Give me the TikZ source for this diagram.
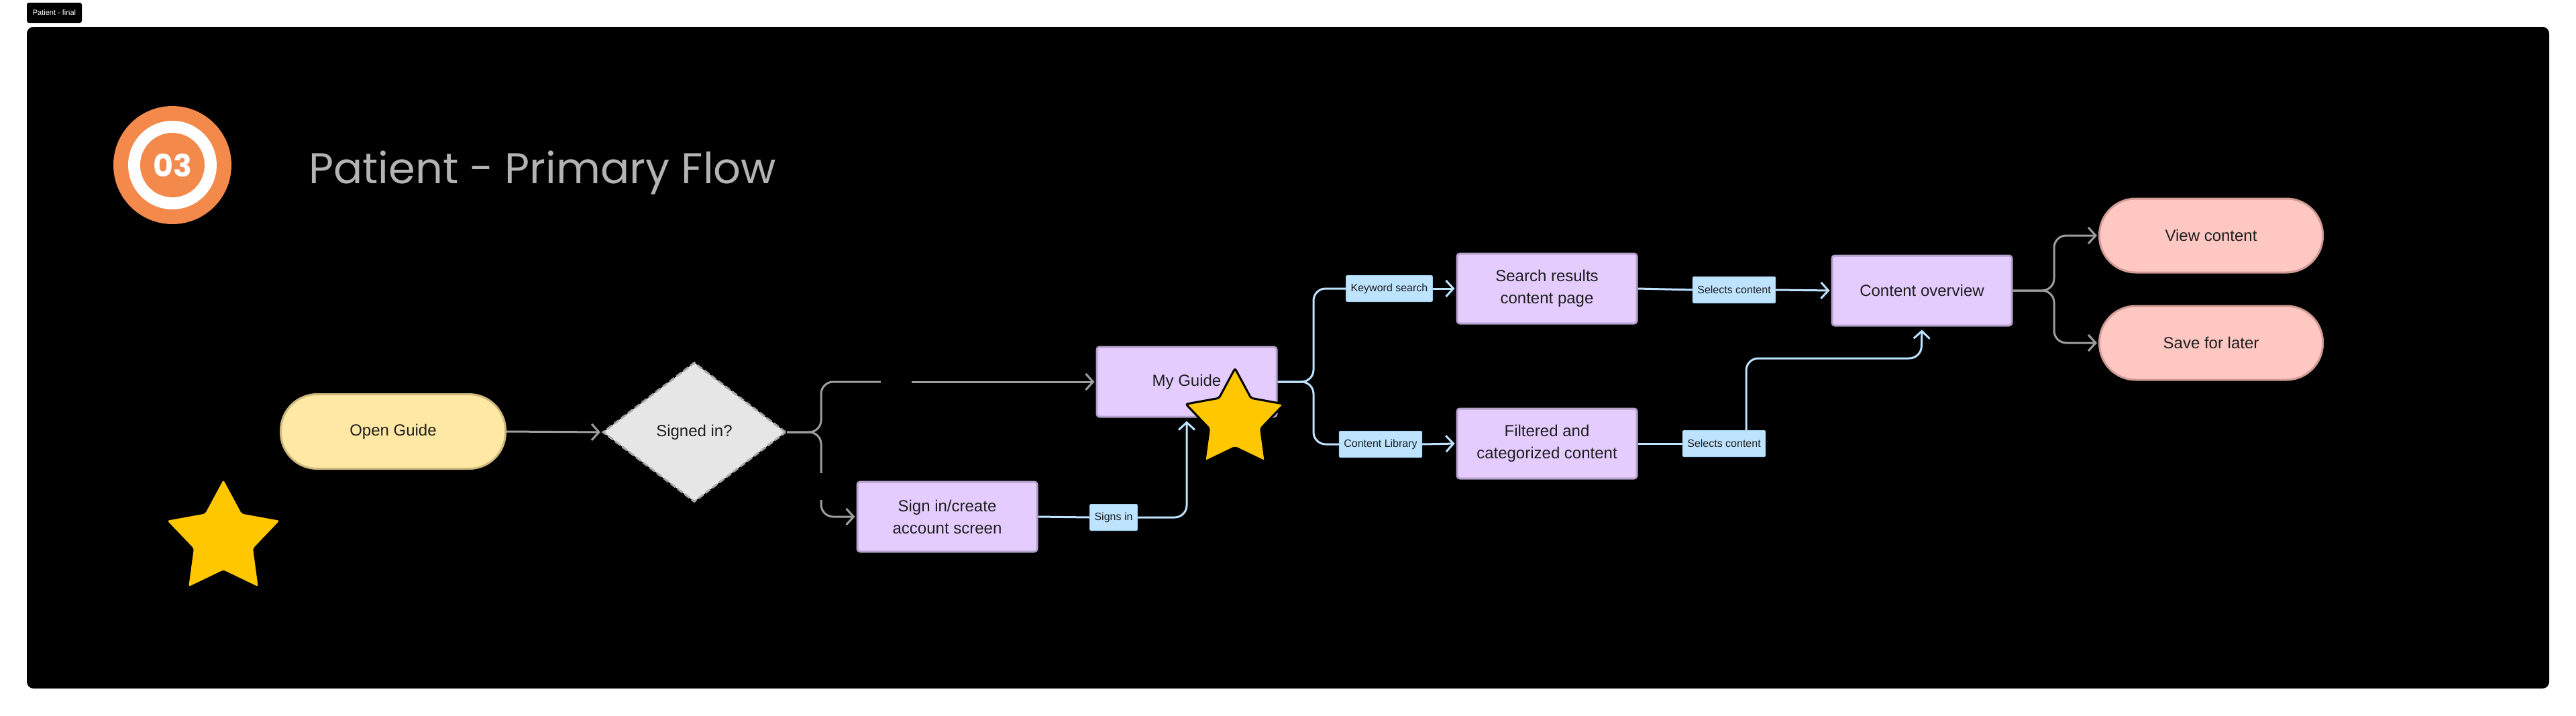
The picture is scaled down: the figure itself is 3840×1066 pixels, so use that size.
\documentclass[tikz,border=0pt]{standalone}
\usepackage{fontspec}
\setmainfont{Liberation Sans}
\newfontfamily\popfont{Poppins}
\usetikzlibrary{shapes.geometric,arrows.meta,calc}
\definecolor{lav}{HTML}{E4CCFF}
\definecolor{lavdraw}{HTML}{B5A2CB}
\definecolor{yel}{HTML}{FFE8A3}
\definecolor{yeldraw}{HTML}{CDB87C}
\definecolor{pnk}{HTML}{FFC7C2}
\definecolor{pnkdraw}{HTML}{D09A95}
\definecolor{dgray}{HTML}{E6E6E6}
\definecolor{dgraydraw}{HTML}{A8A8A8}
\definecolor{lblue}{HTML}{BDE3FF}
\definecolor{lbluedraw}{HTML}{A3CFEF}
\definecolor{gline}{HTML}{9E9E9E}
\definecolor{txt}{HTML}{1E1E1E}
\definecolor{gold}{HTML}{FFC700}
\definecolor{orng}{HTML}{F38A4C}
\definecolor{ttlgray}{HTML}{B3B3B3}
\begin{document}
\begin{tikzpicture}[x=1pt,y=-1pt,
  boxtxt/.style={font=\fontsize{24}{33}\selectfont, text=txt, align=center},
  procbox/.style={boxtxt, rectangle, rounded corners=4pt, fill=lav, draw=lavdraw, line width=3pt, minimum width=268pt, minimum height=104pt, inner sep=0pt},
  stadium/.style={boxtxt, rectangle, rounded corners=54pt, line width=3pt, minimum width=333pt, minimum height=110pt, inner sep=0pt},
  decision/.style={boxtxt, diamond, fill=dgray, draw=dgraydraw, line width=3pt, dash pattern=on 9pt off 4pt, minimum width=273pt, minimum height=208pt, inner sep=0pt},
  lbl/.style={font=\fontsize{16}{18}\selectfont, text=txt, rectangle, rounded corners=2pt, fill=lblue, draw=lbluedraw, line width=1pt, minimum height=39pt, inner xsep=7pt, inner ysep=0pt},
  gap/.style={inner sep=0pt, minimum width=1pt, minimum height=1pt},
  conn/.style={line width=3pt, rounded corners=18pt},
  gconn/.style={conn, draw=gline},
  bconn/.style={conn, draw=lblue},
  tip/.style={-{Straight Barb[length=11pt,width=24pt]}, shorten >=2pt},
  starshape/.style={star, star points=5, star point ratio=1.9, inner sep=0pt, fill=gold, rounded corners=3pt}
]
\fill[white] (0,0) rectangle (3840,1066);
\useasboundingbox (0,0) rectangle (3840,1066);
\fill[black, rounded corners=10pt] (40,40) rectangle (3800,1026);

% tag
\node[fill=black, rounded corners=3pt, text=white, font=\fontsize{11}{12}\selectfont, minimum width=82pt, minimum height=30pt, inner sep=0pt] (tag) at (81,19) {Patient - final};

% badge and title
\node[circle, fill=orng, minimum size=176pt, inner sep=0pt] (badge) at (257,246) {};
\node[circle, fill=white, minimum size=132pt, inner sep=0pt] (ring) at (257,246) {};
\node[circle, fill=orng, minimum size=96pt, inner sep=0pt, text=white, font=\popfont\bfseries\fontsize{46}{46}\selectfont] (num) at (257,246) {03};
\node[anchor=base west, inner sep=0pt, text=ttlgray, font=\popfont\fontsize{64}{70}\selectfont] (title) at (460,273) {Patient - Primary Flow};

% nodes
\node[stadium, fill=yel, draw=yeldraw, minimum width=335pt, minimum height=111pt] (open) at (586,643) {Open Guide};
\node[decision] (sig) at (1035,644) {Signed in?};
\node[gap, minimum width=46pt] (g1) at (1336,569) {};
\node[gap, minimum height=40pt] (g2) at (1224,725) {};
\node[procbox] (myguide) at (1769,569) {My Guide};
\node[procbox] (signin) at (1412,770) {Sign in/create\\account screen};
\node[lbl] (signsin) at (1660,771) {Signs in};
\node[lbl] (kw) at (2071,430) {Keyword search};
\node[procbox] (search) at (2306,430) {Search results\\content page};
\node[lbl] (cl) at (2058,662) {Content Library};
\node[procbox] (filtered) at (2306,661) {Filtered and\\categorized content};
\node[lbl] (sc1) at (2585,432) {Selects content};
\node[procbox] (overview) at (2865,433) {Content overview};
\node[lbl] (sc2) at (2570,661) {Selects content};
\node[stadium, fill=pnk, draw=pnkdraw] (view) at (3296,351) {View content};
\node[stadium, fill=pnk, draw=pnkdraw] (save) at (3296,511) {Save for later};

\coordinate (j1) at (1224,644);
\coordinate (j2) at (1958,569);
\coordinate (j3) at (2864,534);
\coordinate (j4) at (3062,433);

% gray connectors
\draw[gconn, tip] (open.east) -- (sig.west);
\draw[gconn] (sig.east) -- (j1) |- (g1.west);
\draw[gconn, tip] (g1.east) -- (myguide.west);
\draw[gconn] (sig.east) -- (j1) -- (g2.north);
\draw[gconn, tip] (g2.south) |- (signin.west);
\draw[gconn, tip] (overview.east) -- (j4) |- (view.west);
\draw[gconn, tip] (overview.east) -- (j4) |- (save.west);

% blue connectors
\draw[bconn] (signin.east) -- (signsin.west);
\draw[bconn, tip, shorten >=5pt] (signsin.east) -| (myguide.south);
\draw[bconn] (myguide.east) -- (j2) |- (kw.west);
\draw[bconn] (myguide.east) -- (j2) |- (cl.west);
\draw[bconn, tip] (kw.east) -- (search.west);
\draw[bconn, tip] (cl.east) -- (filtered.west);
\draw[bconn] (search.east) -- (sc1.west);
\draw[bconn, tip] (sc1.east) -- (overview.west);
\draw[bconn] (filtered.east) -- (sc2.west);
\draw[bconn, tip, shorten >=5pt] ([xshift=33pt]sc2.north) |- (j3) -- (overview.south);

% stars
\node[starshape, minimum size=176pt] (star1) at (333,803) {};
\node[starshape, minimum size=154pt, draw=black, line width=3pt] (star2) at (1841,626) {};
\end{tikzpicture}
\end{document}
